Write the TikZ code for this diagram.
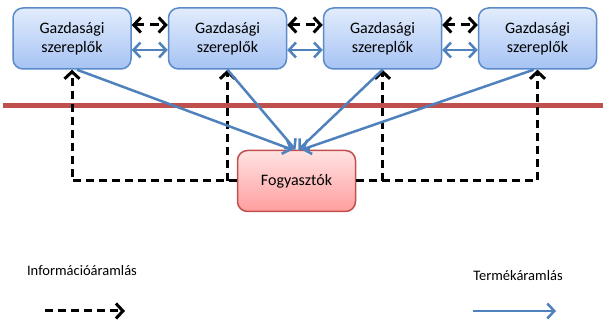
\documentclass[tikz,border=0pt]{standalone}
\usepackage{fontspec}
\setmainfont{Carlito}
\usetikzlibrary{arrows.meta}
\definecolor{boxline}{HTML}{5B8BC9}
\definecolor{boxtop}{HTML}{E2ECFC}
\definecolor{boxbot}{HTML}{A6C3F4}
\definecolor{fogyline}{HTML}{C0504D}
\definecolor{fogytop}{HTML}{FFE3E3}
\definecolor{fogybot}{HTML}{FF9E9E}
\definecolor{flowblue}{HTML}{4F81BD}
\tikzstyle{actor}=[draw=boxline, line width=1.5pt, rounded corners=10pt, top color=boxtop, bottom color=boxbot, minimum width=118pt, minimum height=61pt, inner sep=0pt, align=center, font=\fontsize{16}{19}\selectfont]
\tikzstyle{consumer}=[actor, draw=fogyline, top color=fogytop, bottom color=fogybot]
\tikzstyle{info}=[black, line width=3pt, dash pattern=on 8pt off 5pt, -{Straight Barb[length=7pt,width=15pt]}]
\tikzstyle{goods}=[flowblue, line width=2.5pt, -{Straight Barb[length=7pt,width=15pt]}]
\tikzstyle{legend}=[font=\fontsize{14.5}{18}\selectfont, inner sep=0pt]

\begin{document}
\begin{tikzpicture}[x=1pt, y=-1pt]
\useasboundingbox (0,0) rectangle (603,320);
% Border line
    \draw[fogyline, line width=5pt] (3,106) -- (603,106);
% Actors
    \node[actor] (g1) at (72,38.5) {Gazdasági\\szereplők};
    \node[actor] (g2) at (227.5,38.5) {Gazdasági\\szereplők};
    \node[actor] (g3) at (382.5,38.5) {Gazdasági\\szereplők};
    \node[actor] (g4) at (537.5,38.5) {Gazdasági\\szereplők};
    \node[consumer] (fogy) at (296.5,181) {Fogyasztók};
% Links between actors
    \foreach \a/\b in {g1/g2, g2/g3, g3/g4} {
        \draw[info, dash pattern=on 9pt off 6pt, {Straight Barb[length=7pt,width=15pt]}-{Straight Barb[length=7pt,width=15pt]}]
            ([yshift=13.5pt]\a.east) -- ([yshift=13.5pt]\b.west);
        \draw[goods, {Straight Barb[length=7pt,width=15pt]}-{Straight Barb[length=7pt,width=15pt]}]
            ([yshift=-11.5pt]\a.east) -- ([yshift=-11.5pt]\b.west);
    }
% Information back from consumers
    \coordinate (left) at (72,181);
    \coordinate (midl) at (227.5,181);
    \coordinate (midr) at (382.5,181);
    \coordinate (right) at (537.5,181);
    \draw[info] (fogy.west) -- (left) -- (g1.south);
    \draw[info] (midl) -- (g2.south);
    \draw[info] (fogy.east) -- (right) -- (g4.south);
    \draw[info] (midr) -- (g3.south);
% Goods to consumers
    \draw[goods] ([xshift=5pt]g1.south) -- ([xshift=-4pt]fogy.north);
    \draw[goods] (g2.south) -- ([xshift=-1pt]fogy.north);
    \draw[goods] (g3.south) -- ([xshift=2pt]fogy.north);
    \draw[goods] ([xshift=-4pt]g4.south) -- ([xshift=5pt]fogy.north);
% Legend
    \node[legend] (infotext) at (82,271) {Információáramlás};
    \node[legend] (goodstext) at (518,276) {Termékáramlás};
    \coordinate (infoa) at (45,311);
    \coordinate (infob) at (125,311);
    \coordinate (goodsa) at (473,311);
    \coordinate (goodsb) at (556,311);
    \draw[info] (infoa) -- (infob);
    \draw[goods] (goodsa) -- (goodsb);
\end{tikzpicture}
\end{document}
